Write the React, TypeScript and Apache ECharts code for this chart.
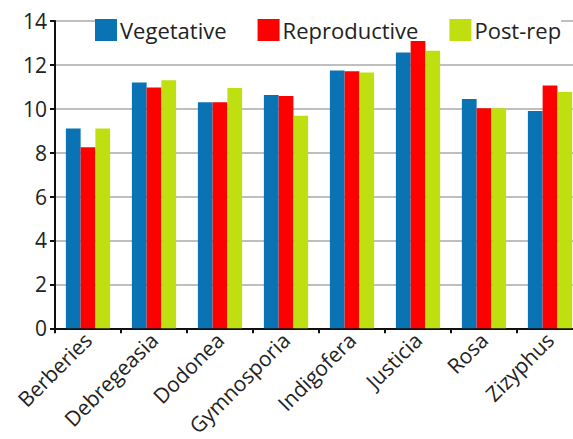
import React, { useEffect, useRef } from "react";
import * as echarts from "echarts";

const categories = ["Berberies", "Debregeasia", "Dodonea", "Gymnosporia", "Indigofera", "Justicia", "Rosa", "Zizyphus"];
const vegetative = [9.1, 11.2, 10.3, 10.63, 11.74, 12.56, 10.45, 9.9];
const reproductive = [8.25, 10.97, 10.3, 10.58, 11.71, 13.12, 10.03, 11.06];
const postRep = [9.1, 11.3, 10.95, 9.68, 11.65, 12.65, 10.03, 10.77];
const seriesNames = ["Vegetative", "Reproductive", "Post-rep"];
const colors = ["#0a73b4", "#fe0000", "#c0df10"];

const FONT = "'Open Sans', 'Noto Sans', sans-serif";

export default function App() {
  const ref = useRef<HTMLDivElement>(null);
  useEffect(() => {
    document.body.style.margin = "0";
    const chart = echarts.init(ref.current!, null, { renderer: "svg" });
    const data = [vegetative, reproductive, postRep];
    chart.setOption({
      animation: false,
      backgroundColor: "#ffffff",
      textStyle: { fontFamily: FONT },
      legend: {
        left: 95,
        top: 19,
        itemWidth: 22,
        itemHeight: 22,
        itemGap: 31,
        icon: "rect",
        backgroundColor: "#ffffff",
        padding: 0,
        textStyle: { fontSize: 22, color: "#222", fontFamily: FONT, padding: [0, 0, 0, -2] },
        data: seriesNames,
      },
      grid: { left: 55, top: 21, right: 0, bottom: 110, containLabel: false },
      xAxis: {
        type: "category",
        data: categories,
        axisLine: { lineStyle: { color: "#111", width: 2 } },
        axisTick: { show: true, length: 5, lineStyle: { color: "#111", width: 2 } },
        axisLabel: { rotate: 45, fontSize: 21, color: "#222", margin: 8, interval: 0, fontFamily: FONT },
      },
      yAxis: {
        type: "value",
        min: 0,
        max: 14,
        interval: 2,
        axisLine: { show: true, lineStyle: { color: "#111", width: 2 } },
        axisTick: { show: true, length: 5, lineStyle: { color: "#111", width: 2 } },
        axisLabel: { fontSize: 21, color: "#222", margin: 8, fontFamily: FONT },
        splitLine: { show: true, lineStyle: { color: "#aaaaaa", width: 1.5 } },
      },
      series: seriesNames.map((name, i) => ({
        name,
        type: "bar",
        data: data[i],
        barGap: "0%",
        barCategoryGap: "33%",
        itemStyle: { color: colors[i] },
      })),
    });
    return () => chart.dispose();
  }, []);
  return (
    <div style={{ width: 573, height: 439, overflow: "hidden", position: "relative" }}>
      <div ref={ref} style={{ width: 583, height: 439 }} />
    </div>
  );
}
